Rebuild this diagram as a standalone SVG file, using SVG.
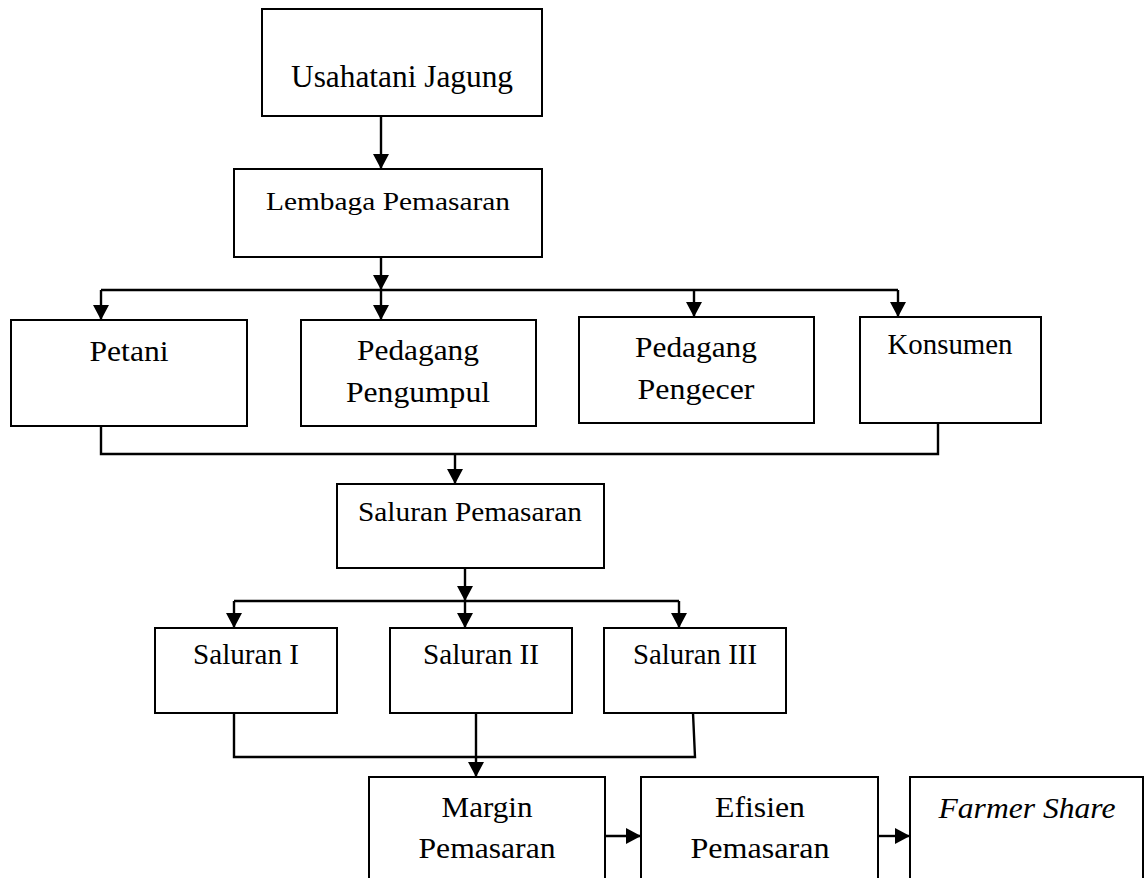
<svg xmlns="http://www.w3.org/2000/svg" width="1147" height="878" viewBox="0 0 1147 878">
<style>
.box{fill:#fff;stroke:#000;stroke-width:2}
.t{font-family:'Liberation Serif','Times New Roman',Times,serif;fill:#000;text-anchor:middle}
.c{fill:none;stroke:#000;stroke-width:2.4}
.a{marker-end:url(#ah)}
</style>
<defs>
<marker id="ah" markerUnits="userSpaceOnUse" markerWidth="18" markerHeight="18" refX="15" refY="8" orient="auto">
<path d="M0,0 L15,8 L0,16 z" fill="#000"/>
</marker>
</defs>
<rect width="1147" height="878" fill="#fff"/>
<g id="connectors">
<path class="c a" d="M381,116 V169"/>
<path class="c a" d="M381,257 V290"/>
<path class="c" d="M101,290 H898"/>
<path class="c a" d="M101,290 V320"/>
<path class="c a" d="M381,290 V320"/>
<path class="c a" d="M694,290 V317"/>
<path class="c a" d="M898,290 V317"/>
<path class="c" d="M101,426 V454 H938 V423"/>
<path class="c a" d="M455,454 V484"/>
<path class="c a" d="M465,568 V601"/>
<path class="c" d="M234,601 H679"/>
<path class="c a" d="M234,601 V628"/>
<path class="c a" d="M465,601 V628"/>
<path class="c a" d="M679,601 V628"/>
<path class="c" d="M234,713 V757 H695 L693,713"/>
<path class="c a" d="M476,713 V777"/>
<path class="c a" d="M605,836 H641"/>
<path class="c a" d="M878,836 H910"/>
</g>
<g id="usahatani"><rect class="box" x="262" y="9" width="280" height="107"/><text class="t" x="402" y="87" font-size="31" textLength="222" lengthAdjust="spacingAndGlyphs">Usahatani Jagung</text></g>
<g id="lembaga"><rect class="box" x="234" y="169" width="308" height="88"/><text class="t" x="388" y="210" font-size="26" textLength="244" lengthAdjust="spacingAndGlyphs">Lembaga Pemasaran</text></g>
<g id="petani"><rect class="box" x="11" y="320" width="236" height="106"/><text class="t" x="129" y="361" font-size="30" textLength="79" lengthAdjust="spacingAndGlyphs">Petani</text></g>
<g id="pengumpul"><rect class="box" x="301" y="320" width="235" height="106"/><text class="t" x="418" y="360" font-size="29" textLength="122" lengthAdjust="spacingAndGlyphs">Pedagang</text><text class="t" x="418" y="402" font-size="29" textLength="144" lengthAdjust="spacingAndGlyphs">Pengumpul</text></g>
<g id="pengecer"><rect class="box" x="579" y="317" width="235" height="106"/><text class="t" x="696" y="357" font-size="29" textLength="122" lengthAdjust="spacingAndGlyphs">Pedagang</text><text class="t" x="696" y="399" font-size="29" textLength="117" lengthAdjust="spacingAndGlyphs">Pengecer</text></g>
<g id="konsumen"><rect class="box" x="860" y="317" width="181" height="106"/><text class="t" x="950" y="354" font-size="29" textLength="125" lengthAdjust="spacingAndGlyphs">Konsumen</text></g>
<g id="saluran-pemasaran"><rect class="box" x="337" y="484" width="267" height="84"/><text class="t" x="470" y="521" font-size="27" textLength="224" lengthAdjust="spacingAndGlyphs">Saluran Pemasaran</text></g>
<g id="saluran1"><rect class="box" x="155" y="628" width="182" height="85"/><text class="t" x="246" y="664" font-size="29" textLength="106" lengthAdjust="spacingAndGlyphs">Saluran I</text></g>
<g id="saluran2"><rect class="box" x="390" y="628" width="182" height="85"/><text class="t" x="481" y="664" font-size="29" textLength="116" lengthAdjust="spacingAndGlyphs">Saluran II</text></g>
<g id="saluran3"><rect class="box" x="604" y="628" width="182" height="85"/><text class="t" x="695" y="664" font-size="29" textLength="124" lengthAdjust="spacingAndGlyphs">Saluran III</text></g>
<g id="margin"><rect class="box" x="369" y="777" width="236" height="120"/><text class="t" x="487" y="817" font-size="29" textLength="91" lengthAdjust="spacingAndGlyphs">Margin</text><text class="t" x="487" y="858" font-size="29" textLength="137" lengthAdjust="spacingAndGlyphs">Pemasaran</text></g>
<g id="efisien"><rect class="box" x="641" y="777" width="237" height="120"/><text class="t" x="760" y="817" font-size="29" textLength="90" lengthAdjust="spacingAndGlyphs">Efisien</text><text class="t" x="760" y="858" font-size="29" textLength="139" lengthAdjust="spacingAndGlyphs">Pemasaran</text></g>
<g id="farmer"><rect class="box" x="910" y="777" width="233" height="120"/><text class="t" x="1027" y="818" font-size="29" font-style="italic" textLength="177" lengthAdjust="spacingAndGlyphs">Farmer Share</text></g>
</svg>
